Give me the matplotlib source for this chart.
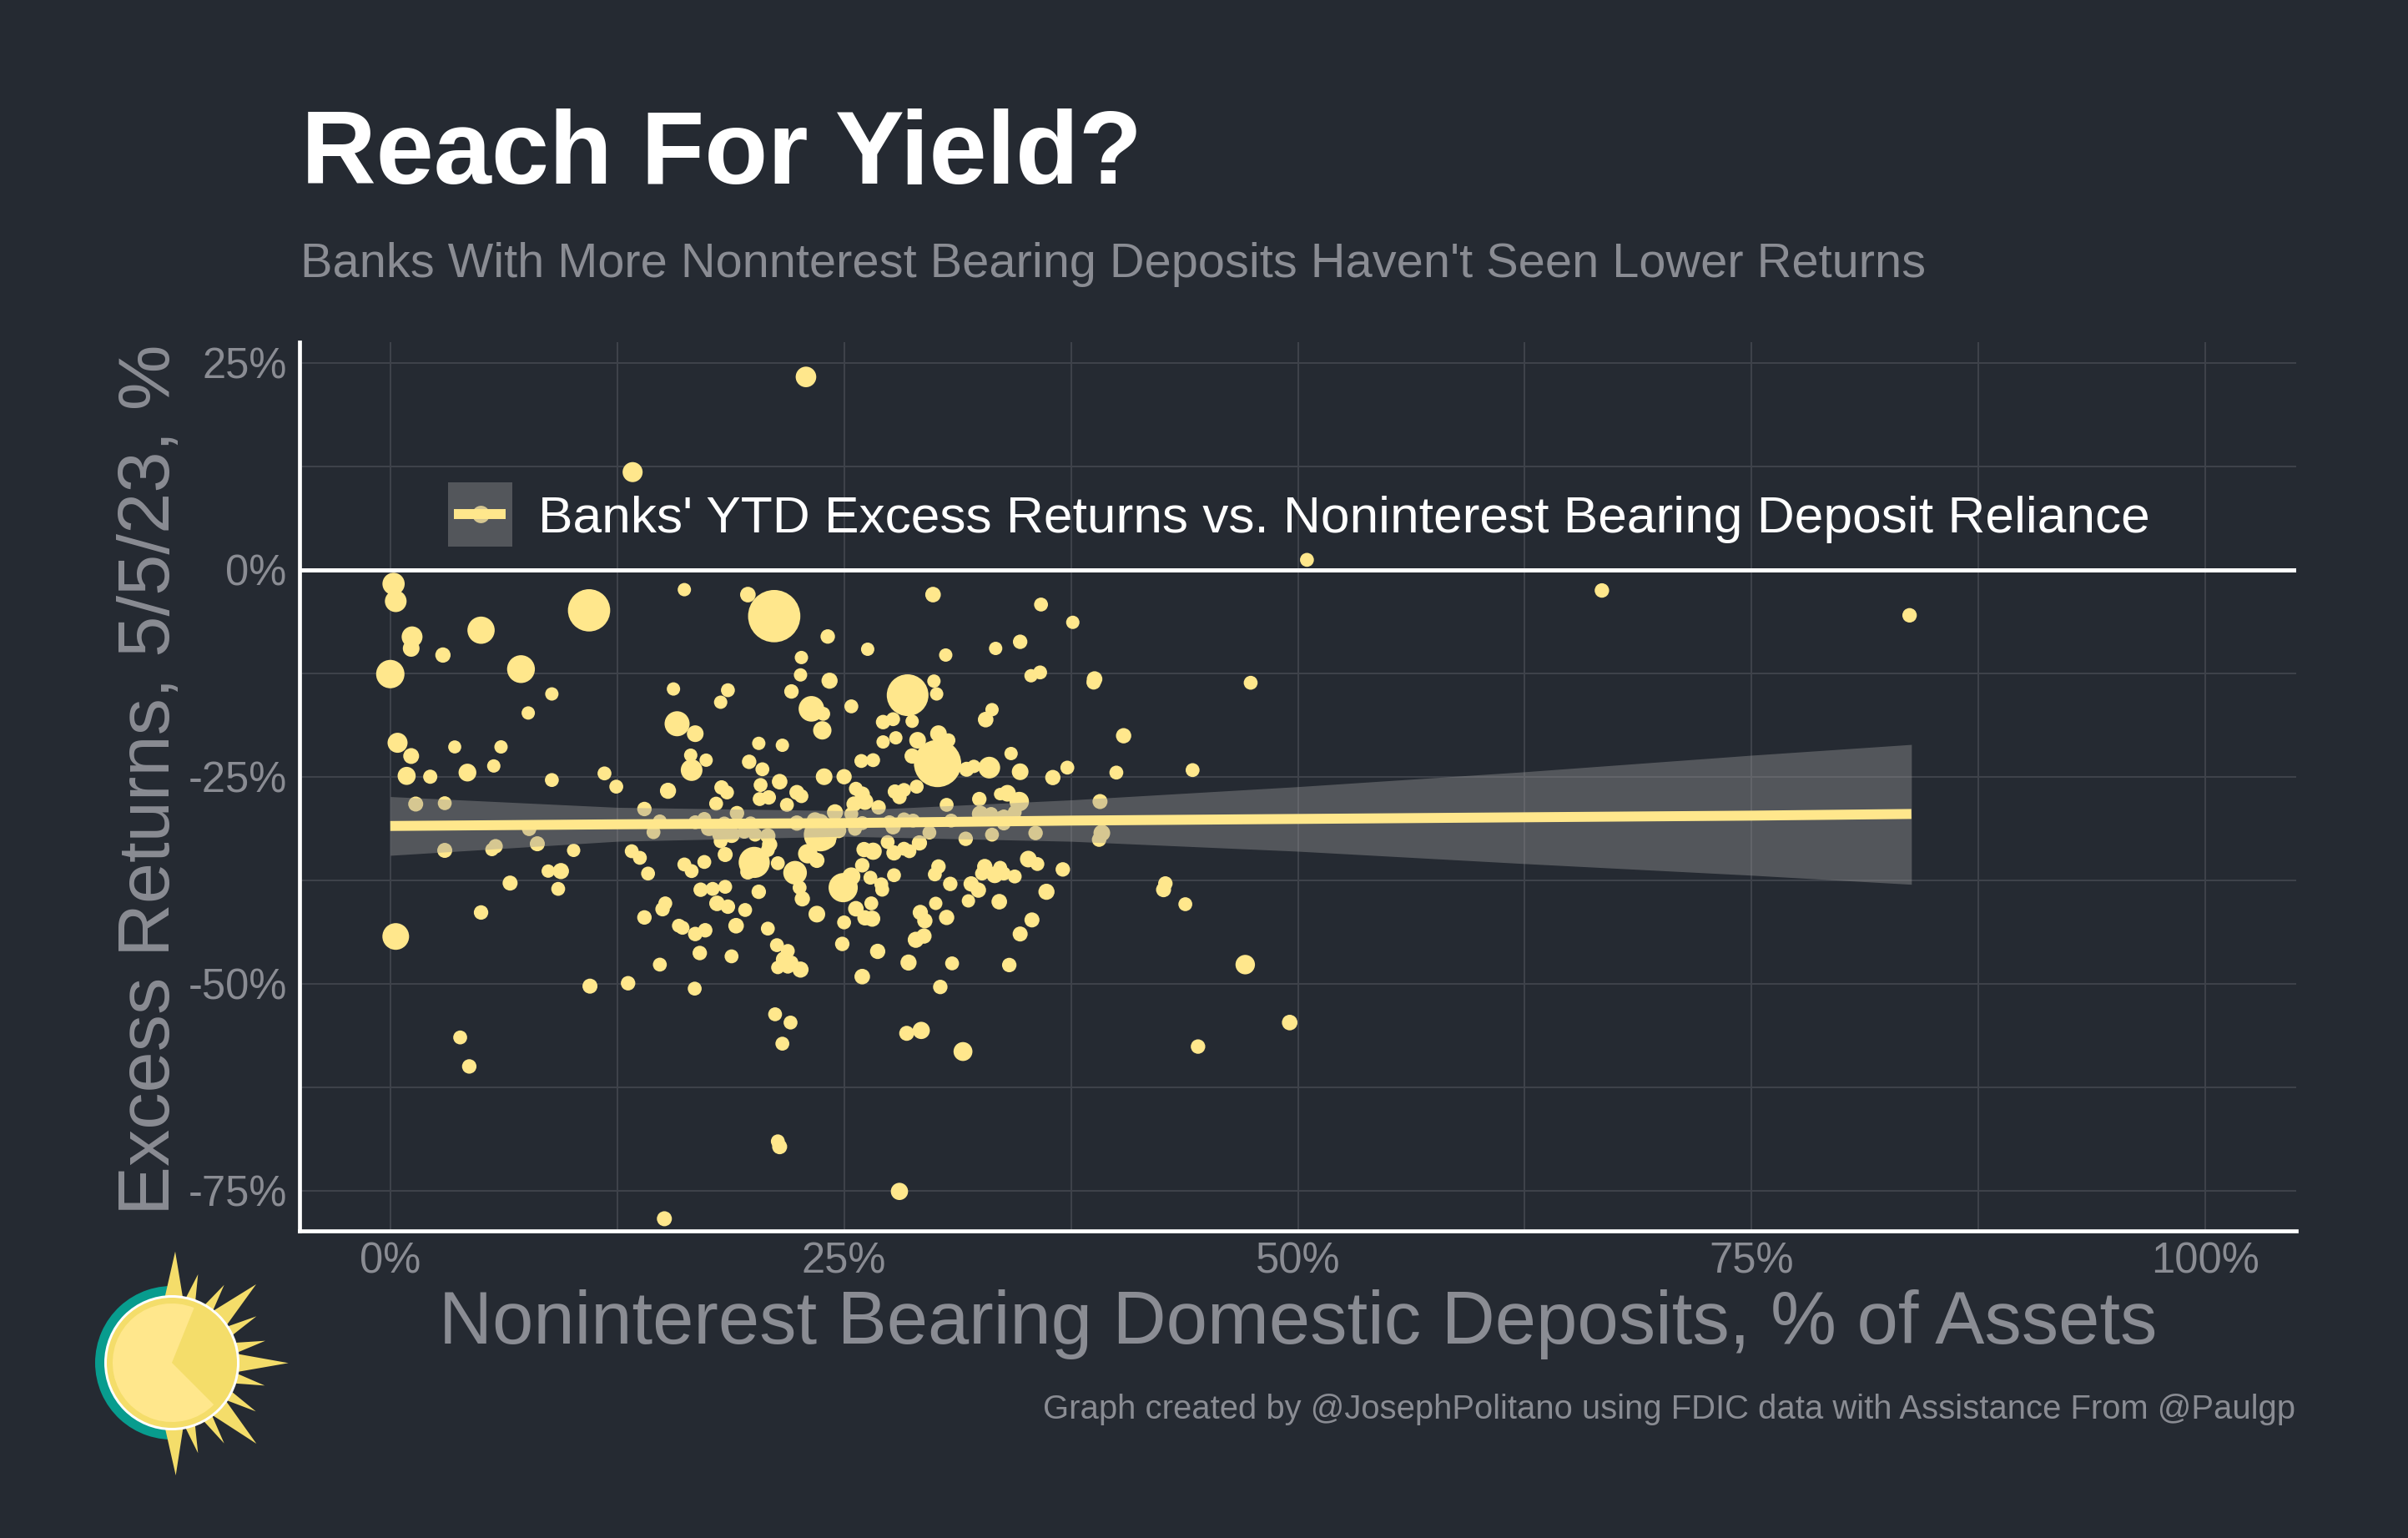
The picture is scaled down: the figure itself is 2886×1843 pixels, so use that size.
import numpy as np
import matplotlib
matplotlib.use("Agg")
import matplotlib.pyplot as plt
from matplotlib.patches import Circle, Wedge, Polygon, Patch, Rectangle
from matplotlib.lines import Line2D
from matplotlib.legend_handler import HandlerBase

W, H = 2886, 1843
BG = "#252A32"
YEL = "#FFE78C"
GRID = "#3E424A"
GREY = "#8A8C93"

title = "Reach For Yield?"
subtitle = "Banks With More Nonnterest Bearing Deposits Haven't Seen Lower Returns"
xlabel = "Noninterest Bearing Domestic Deposits, % of Assets"
ylabel = "Excess Returns, 5/5/23, %"
caption = "Graph created by @JosephPolitano using FDIC data with Assistance From @Paulgp"
legend_label = "Banks' YTD Excess Returns vs. Noninterest Bearing Deposit Reliance"
x_major = [0, 25, 50, 75, 100]
y_major = [25, 0, -25, -50, -75]

nib_share = [
 0.18,0.3,1.2,1.15,2.9,5.0,10.95,16.2,0,7.2,
 8.9,7.6,15.6,15.8,16.8,0.4,1.15,3.55,6.1,5.7,
 4.25,0.9,2.2,8.9,11.8,12.45,16.55,17.4,16.6,15.3,
 1.4,3.0,14.0,14.85,14.5,16.8,17.3,17.5,7.65,8.1,
 3.0,5.8,5.6,10.1,13.3,13.75,14.2,16.2,16.6,17.3,
 8.7,9.4,6.6,9.25,5.0,0.3,11.0,13.1,3.85,4.35,
 19.7,21.15,24.1,26.3,30.6,33.35,22.65,22.6,24.2,22.1,
 18.6,18.2,28.5,29.95,30.1,23.2,23.85,23.8,25.4,27.15,
 27.7,28.75,33.15,32.8,20.3,21.6,27.15,27.85,29.05,30.2,
 30.75,28.75,30.15,19.77,20.5,25.95,26.6,31.75,32.15,33.0,
 23.9,25.0,18.25,18.55,21.45,20.4,22.4,22.65,20.35,20.85,
 21.85,17.95,25.65,26.0,25.55,26.15,26.9,27.8,28.3,28.05,
 29.0,30.65,32.45,33.6,24.5,19.1,18.4,19.85,22.4,23.4,
 23.7,25.4,26.0,25.6,27.5,27.7,28.3,28.8,29.7,30.9,
 32.5,33.1,31.7,33.15,33.6,17.6,18.2,18.8,19.5,20.1,
 20.8,23.7,24.7,24.1,18.2,20.9,20.8,18.45,20.05,19.7,
 21.35,23.0,23.5,22.3,22.55,22.7,26.0,26.1,26.6,27.4,
 27.75,28.3,28.6,29.15,24.95,25.4,26.45,27.75,27.05,27.1,
 30.2,30.0,30.85,32.0,32.4,32.75,32.6,33.3,33.6,17.1,
 17.76,18.45,20.3,15.15,15.0,14.0,15.9,16.1,16.8,17.35,
 18.0,18.6,19.55,19.05,20.8,17.05,18.8,14.85,16.77,23.5,
 25.0,25.65,26.15,26.55,26.5,24.9,26.85,28.55,29.2,29.45,
 29.4,28.95,30.05,30.65,31.85,30.95,30.3,26.0,21.3,21.9,
 21.7,22.1,21.35,21.9,22.6,21.2,22.05,21.6,28.45,29.25,
 31.55,21.35,21.45,28.05,15.1,33.55,36.15,35.35,34.7,34.1,
 42.7,42.6,43.8,47.1,49.55,44.5,29.9,35.85,37.6,34.7,
 35.3,35.8,38.8,38.75,47.4,40.4,34.2,37.3,40.0,44.2,
 34.7,36.5,34.0,34.65,39.1,33.8,34.4,33.8,35.55,39.2,
 39.05,35.15,35.65,37.05,33.8,34.4,22.9,13.35,50.5,66.75,
 83.7,
]
excess_return = [
 -1.7,-3.8,-8.1,-9.5,-10.3,-7.3,-4.9,-2.4,-12.6,-12.0,
 -15.0,-17.3,-14.4,-18.6,-19.8,-20.9,-22.5,-21.4,-21.4,-23.7,
 -24.5,-24.9,-25.0,-25.4,-24.6,-26.2,-22.4,-23.0,-24.2,-26.7,
 -28.3,-28.2,-28.9,-30.4,-31.7,-30.5,-30.1,-31.3,-31.3,-33.1,
 -33.9,-33.4,-33.8,-33.9,-34.0,-34.8,-36.7,-35.6,-36.4,-35.3,
 -36.4,-36.4,-37.85,-38.55,-41.4,-44.3,-50.3,-49.95,-56.5,-60.0,
 -3.0,-5.6,-8.06,-9.6,-10.3,-9.5,-10.6,-12.7,-13.4,-14.7,
 -14.55,-16.0,-15.15,-13.45,-15.0,-16.8,-17.4,-19.4,-16.5,-18.4,
 -18.05,-18.3,-16.9,-18.1,-20.97,-21.2,-20.8,-20.3,-20.6,-19.8,
 -20.6,-22.5,-23.4,-23.2,-24.1,-23.1,-23.0,-24.1,-23.75,-23.9,
 -25.0,-25.0,-26.3,-26.9,-25.6,-26.0,-26.9,-27.35,-27.7,-27.5,
 -28.4,-28.25,-26.45,-27.1,-28.3,-28.0,-28.7,-26.8,-26.6,-27.45,
 -26.2,-28.4,-27.7,-27.1,-29.3,-29.4,-30.65,-30.6,-30.6,-30.3,
 -30.5,-29.5,-30.6,-31.3,-30.5,-31.05,-30.15,-30.3,-31.75,-30.3,
 -29.5,-29.5,-32.5,-32.0,-30.0,-31.15,-32.0,-32.0,-31.65,-32.0,
 -32.15,-32.0,-31.5,-32.65,-32.8,-33.2,-33.85,-34.4,-35.35,-36.5,
 -35.45,-34.3,-35.1,-36.6,-38.4,-39.75,-35.7,-33.8,-34.0,-32.9,
 -34.2,-33.7,-34.0,-33.0,-38.4,-37.05,-37.2,-36.9,-38.0,-38.65,
 -35.85,-36.8,-37.95,-37.95,-38.7,-35.85,-36.7,-36.85,-36.0,-38.65,
 -38.55,-38.3,-38.9,-40.3,-41.0,-42.0,-43.0,-43.25,-44.0,-43.55,
 -40.3,-40.7,-41.1,-43.0,-43.35,-46.3,-46.7,-47.7,-50.6,-41.6,
 -42.6,-40.95,-42.05,-42.15,-40.3,-45.2,-46.1,-47.45,-41.4,-42.4,
 -44.25,-44.7,-40.3,-42.0,-40.0,-47.55,-50.4,-49.15,-45.35,-46.05,
 -47.1,-47.45,-48.05,-47.95,-48.3,-53.7,-54.7,-57.25,-56.0,-55.65,
 -58.2,-69.05,-69.7,-75.1,-78.4,-40.1,-38.9,-42.3,-44.0,-47.75,
 -37.9,-38.65,-40.4,-47.7,-54.7,-57.6,-3.0,-4.2,-6.35,-8.7,
 -12.8,-12.4,-13.2,-13.6,-13.65,-20.05,-22.2,-23.9,-24.5,-24.2,
 -24.4,-25.1,-27.0,-28.0,-28.0,-29.8,-29.3,-30.65,-31.8,-31.8,
 -32.6,-34.95,-35.55,-36.2,-36.7,-37.05,23.3,11.8,1.2,-2.5,
 -5.5,
]
bank_size = [
 80,78,75,60,55,98,152,48,102,100,
 48,48,48,90,60,72,57,47,48,48,
 64,65,51,50,50,50,48,48,78,58,
 54,50,52,50,50,50,50,50,52,54,
 54,52,48,48,50,50,50,50,50,50,
 48,58,54,50,52,96,54,52,50,52,
 56,188,52,48,48,48,48,48,58,52,
 50,48,150,48,48,92,50,66,50,52,
 50,48,48,56,48,48,48,48,60,60,
 50,55,170,52,50,50,50,54,48,78,
 60,55,52,50,56,50,54,50,50,52,
 50,50,50,55,55,60,52,52,50,52,
 50,50,52,45,58,52,50,48,55,60,
 60,50,50,50,50,55,50,50,50,50,
 60,50,52,50,50,60,60,60,50,50,
 55,120,55,60,50,55,50,54,112,55,
 50,70,55,85,50,55,52,55,62,50,
 55,50,50,55,105,65,50,50,50,50,
 52,50,52,55,55,55,50,60,50,52,
 50,50,52,50,52,52,50,50,52,52,
 56,52,50,56,50,52,50,50,50,60,
 50,56,55,58,50,52,55,58,55,55,
 55,58,48,55,48,50,52,56,50,50,
 60,50,48,50,58,50,50,50,54,62,
 68,50,54,62,54,56,58,54,54,52,
 52,54,50,70,56,52,56,50,48,52,
 48,50,56,52,50,55,48,50,50,50,
 60,55,60,70,54,50,50,50,52,60,
 52,60,50,52,50,50,74,72,50,52,
 52,
]

fit_x = [0, 12.5, 25, 37.5, 50, 62.5, 75, 83.8]
fit_y = [-30.95, -30.75, -30.6, -30.3, -30.1, -29.9, -29.7, -29.5]
ci_up = [-27.4, -28.7, -29.1, -27.8, -26.2, -24.4, -22.4, -21.1]
ci_lo = [-34.5, -32.8, -32.2, -32.8, -34.0, -35.5, -36.9, -38.0]

plt.rcParams["font.family"] = ["Liberation Sans", "DejaVu Sans"]
fig = plt.figure(figsize=(W / 100, H / 100), dpi=100, facecolor=BG)


def fx(px):
    return px / W


def fy(py):
    return 1 - py / H


AL, AR, AT, AB = 359, 2752, 410, 1475
ax = fig.add_axes([fx(AL), fy(AB), fx(AR - AL), (AB - AT) / H], facecolor=BG)
ax.set_xlim(-5, 105)
ax.set_ylim(-79.87, 27.5)

ax.set_xticks(x_major)
ax.set_xticklabels([f"{v}%" for v in x_major])
ax.set_yticks(y_major)
ax.set_yticklabels([f"{v}%" for v in y_major])
ax.set_xticks([12.5, 37.5, 62.5, 87.5], minor=True)
ax.set_yticks([12.5, -12.5, -37.5, -62.5], minor=True)
ax.grid(True, which="both", color=GRID, lw=1.44, zorder=0)
ax.set_axisbelow(True)
ax.tick_params(which="both", length=0)
ax.tick_params(axis="both", labelsize=36.5, labelcolor=GREY)
ax.tick_params(axis="x", pad=9)
ax.tick_params(axis="y", pad=11)
for s in ["top", "right"]:
    ax.spines[s].set_visible(False)
for s in ["left", "bottom"]:
    ax.spines[s].set_color("white")
    ax.spines[s].set_linewidth(3.4)

ax.axhline(0, color="white", lw=3.6, zorder=1.5)
ax.scatter(nib_share, excess_return, s=(0.24 * np.array(bank_size)) ** 2,
           color=YEL, linewidths=0, zorder=3)
ax.fill_between(fit_x, ci_lo, ci_up, color="#999999", alpha=0.4, lw=0, zorder=4)
ax.plot(fit_x, fit_y, color=YEL, lw=8.6, solid_capstyle="butt", zorder=5)


class KeyHandler(HandlerBase):
    """ggplot style key: point under a grey band, with the fit line on top."""

    def create_artists(self, legend, orig_handle, xdescent, ydescent, width, height,
                       fontsize, trans):
        y0, h = -0.273 * fontsize, 1.237 * fontsize
        yc = y0 + h / 2
        point = Line2D([width / 2], [yc], marker="o", ms=15, mew=0, color=YEL, ls="none",
                       transform=trans)
        rect = Rectangle((0, y0), width, h, facecolor="#999999", alpha=0.4, edgecolor="none",
                         transform=trans)
        line = Line2D([0.095 * width, 0.895 * width], [yc, yc], color=YEL, lw=8.6,
                      solid_capstyle="butt", transform=trans)
        return [point, rect, line]


key = Patch()
leg = ax.legend([key], [legend_label], handler_map={Patch: KeyHandler()},
                loc="center left", bbox_to_anchor=(0.0744, 0.805), frameon=False,
                fontsize=44.8, labelcolor="white", handlelength=1.238, handleheight=1.238,
                handletextpad=0.5, borderpad=0, borderaxespad=0)
leg.set_zorder(6)

fig.text(fx(361), fy(220), title, fontsize=89.5, fontweight="bold", color="white",
         ha="left", va="baseline")
fig.text(fx(360), fy(332), subtitle, fontsize=41.6, color=GREY, ha="left", va="baseline")
fig.text(fx(1556), fy(1610), xlabel, fontsize=63.8, color=GREY, ha="center", va="baseline")
fig.text(fx(181), fy(934), ylabel, fontsize=63.7, color=GREY, rotation=90,
         ha="center", va="center")
fig.text(fx(2751), fy(1700), caption, fontsize=28.8, color=GREY, ha="right", va="baseline")

# sun logo, in pixel units
logo = fig.add_axes([0, 0, 1, 1], facecolor="none", zorder=10)
logo.set_xlim(0, W)
logo.set_ylim(H, 0)
logo.axis("off")
cx, cy = 206, 1633
SUN = "#F4DD6A"
logo.add_patch(Wedge((cx, cy), 92, 85, 275, color="#089C8E", lw=0))
tips = [(12, -400, 33), (94, -318, 19), (188, -280, 19), (303, -282, 36), (304, -167, 19),
        (336, -79, 19), (419, 1, 33), (334, 82, 19), (302, 175, 19), (304, 291, 36),
        (188, 290, 19), (94, 325, 19), (14, 405, 33)]
for tx, ty, hw in tips:
    a = np.arctan2(ty, tx)
    n = np.array([-np.sin(a), np.cos(a)])
    d = np.array([np.cos(a), np.sin(a)])
    p0 = (d * 232 + n * hw) / 3
    p1 = (d * 232 - n * hw) / 3
    logo.add_patch(Polygon([(cx + p0[0], cy + p0[1]), (cx + tx / 3, cy + ty / 3),
                            (cx + p1[0], cy + p1[1])], closed=True, color=SUN, lw=0))
logo.add_patch(Circle((cx, cy), 81, color="white", lw=0))
logo.add_patch(Circle((cx, cy), 78, color=SUN, lw=0))
# y axis of this overlay is inverted, so the wedge angles run clockwise on screen
logo.add_patch(Wedge((cx, cy), 71, 45, 292, color=YEL, lw=0))

fig.savefig("out.png", dpi=100, facecolor=BG)
